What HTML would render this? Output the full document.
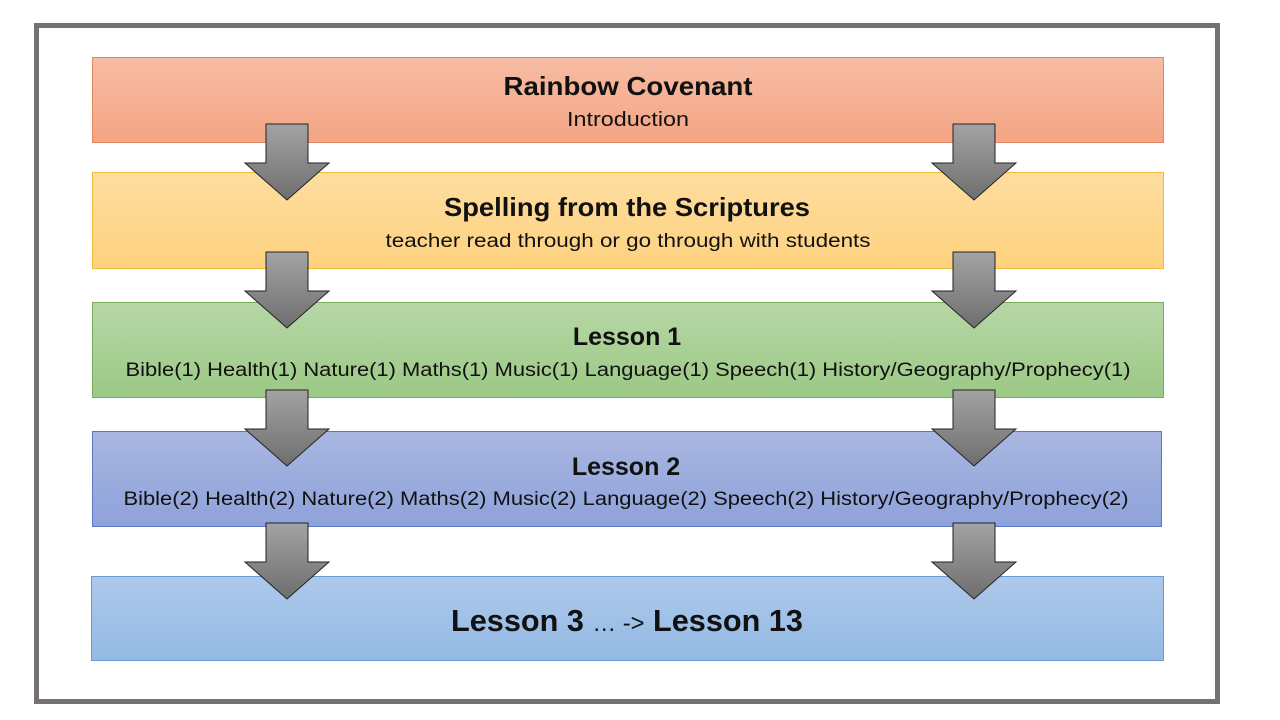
<!DOCTYPE html>
<html><head><style>html,body{margin:0;padding:0;background:#fff}svg{display:block}</style></head>
<body>
<svg width="1280" height="720" viewBox="0 0 1280 720" xmlns="http://www.w3.org/2000/svg" font-family="Liberation Sans, sans-serif" fill="#111">
<defs>
<linearGradient id="g1" x1="0" y1="0" x2="0" y2="1"><stop offset="0" stop-color="#f6bca3"/><stop offset="1" stop-color="#f4a584"/></linearGradient>
<linearGradient id="g2" x1="0" y1="0" x2="0" y2="1"><stop offset="0" stop-color="#fedda0"/><stop offset="1" stop-color="#fed27f"/></linearGradient>
<linearGradient id="g3" x1="0" y1="0" x2="0" y2="1"><stop offset="0" stop-color="#b7d7a6"/><stop offset="1" stop-color="#9bc985"/></linearGradient>
<linearGradient id="g4" x1="0" y1="0" x2="0" y2="1"><stop offset="0" stop-color="#a9b7e1"/><stop offset="1" stop-color="#8ea2da"/></linearGradient>
<linearGradient id="g5" x1="0" y1="0" x2="0" y2="1"><stop offset="0" stop-color="#adc9ea"/><stop offset="1" stop-color="#94b9e4"/></linearGradient>
<linearGradient id="ga" x1="0" y1="0" x2="0" y2="1"><stop offset="0" stop-color="#a3a3a3"/><stop offset="1" stop-color="#6e6e6e"/></linearGradient>
<g id="arr"><path d="M-21,0 H21 V39 H42 L0,76 L-42,39 H-21 Z" fill="url(#ga)" stroke="#222" stroke-width="1"/></g>
</defs>
<rect x="36.5" y="25.5" width="1181" height="676" fill="#fff" stroke="#767171" stroke-width="5"/>
<rect x="92.5" y="57.5" width="1071" height="85" fill="url(#g1)" stroke="#e0875f"/>
<rect x="92.5" y="172.5" width="1071" height="96" fill="url(#g2)" stroke="#f0bd38"/>
<rect x="92.5" y="302.5" width="1071" height="95" fill="url(#g3)" stroke="#78ad5e"/>
<rect x="92.5" y="431.5" width="1069" height="95" fill="url(#g4)" stroke="#5b76c4"/>
<rect x="91.5" y="576.5" width="1072" height="84" fill="url(#g5)" stroke="#6c9bd0"/>
<g text-anchor="middle">
<text x="628" y="95" font-size="26" font-weight="bold" textLength="249" lengthAdjust="spacingAndGlyphs">Rainbow Covenant</text>
<text x="628" y="126" font-size="20" textLength="122" lengthAdjust="spacingAndGlyphs">Introduction</text>
<text x="627" y="216" font-size="26" font-weight="bold" textLength="366" lengthAdjust="spacingAndGlyphs">Spelling from the Scriptures</text>
<text x="628" y="247" font-size="19" textLength="485" lengthAdjust="spacingAndGlyphs">teacher read through or go through with students</text>
<text x="627" y="345" font-size="25" font-weight="bold">Lesson 1</text>
<text x="628" y="376" font-size="19" textLength="1005" lengthAdjust="spacingAndGlyphs">Bible(1) Health(1) Nature(1) Maths(1) Music(1) Language(1) Speech(1) History/Geography/Prophecy(1)</text>
<text x="626" y="475" font-size="25" font-weight="bold">Lesson 2</text>
<text x="626" y="505" font-size="19" textLength="1005" lengthAdjust="spacingAndGlyphs">Bible(2) Health(2) Nature(2) Maths(2) Music(2) Language(2) Speech(2) History/Geography/Prophecy(2)</text>
<text x="627" y="631" font-size="31" font-weight="bold" textLength="352" lengthAdjust="spacingAndGlyphs">Lesson 3 <tspan font-weight="normal" font-size="24">… -&gt;</tspan> Lesson 13</text>
</g>
<use href="#arr" x="287" y="124"/><use href="#arr" x="974" y="124"/>
<use href="#arr" x="287" y="252"/><use href="#arr" x="974" y="252"/>
<use href="#arr" x="287" y="390"/><use href="#arr" x="974" y="390"/>
<use href="#arr" x="287" y="523"/><use href="#arr" x="974" y="523"/>
</svg>
</body></html>
